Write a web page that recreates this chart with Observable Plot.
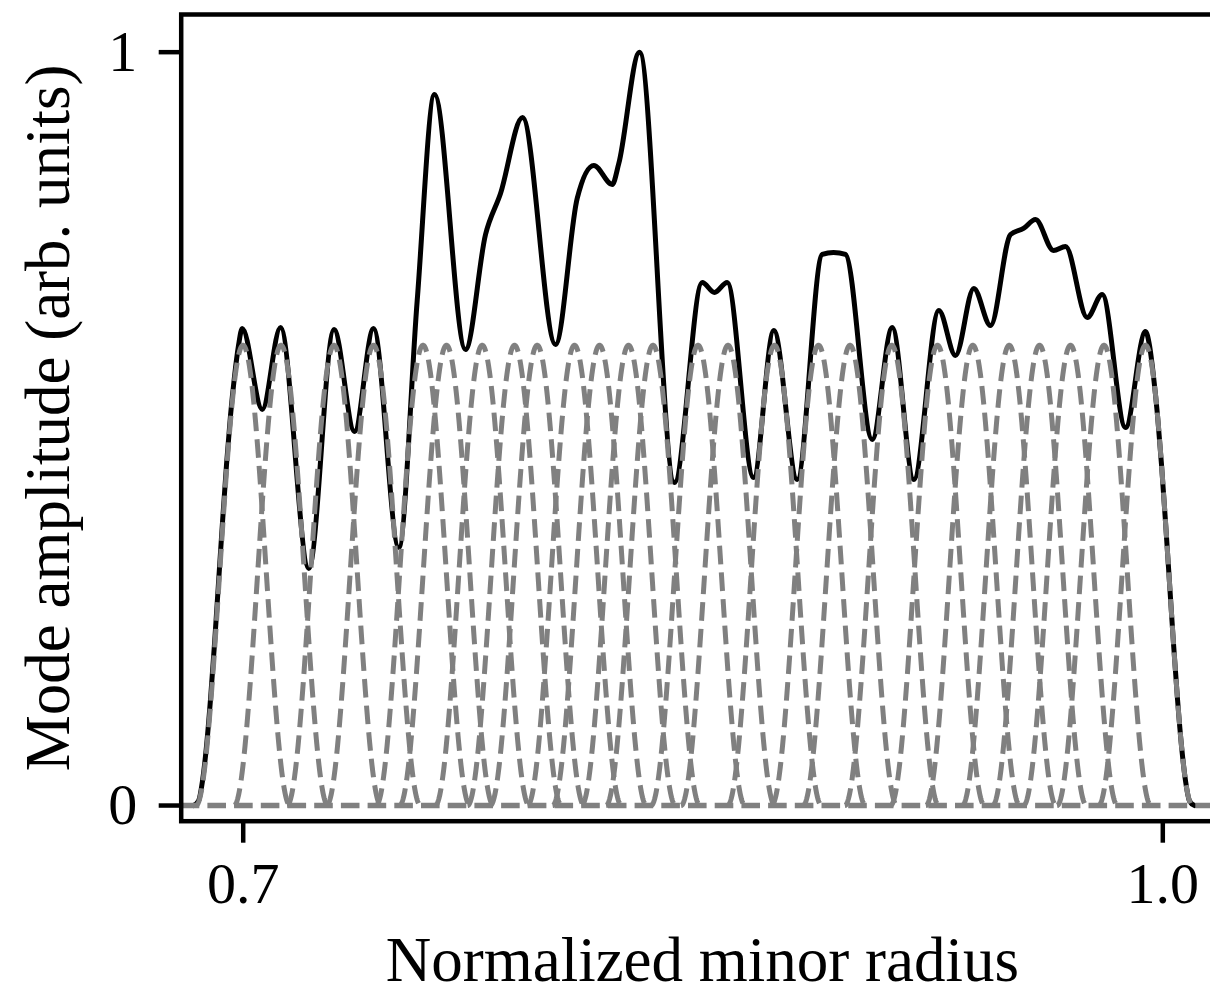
<!DOCTYPE html>
<html><head><meta charset="utf-8">
<script src="https://cdn.jsdelivr.net/npm/d3@7"></script>
<script src="https://cdn.jsdelivr.net/npm/@observablehq/plot@0.6"></script>
<style>
html,body{margin:0;padding:0;background:#fff;overflow:hidden;}
svg{max-width:none !important;}
</style></head><body><div id="chart"></div>
<script>
// Centres of the individual modes (dashed)
const modeCenters = [0.69993, 0.71233, 0.72962, 0.74251, 0.75866, 0.76632, 0.77797, 0.78851, 0.79591,
  0.80808, 0.81624, 0.82570, 0.83369, 0.84837, 0.85816, 0.87333, 0.88768, 0.89796, 0.91159,
  0.92650, 0.93802, 0.94989, 0.95978, 0.96989, 0.98082, 0.99436];
const modePeak = 0.611;        // height of each dashed mode
const modeHalfWidth = 0.01533; // half support of each (cos^2-shaped) mode
const zeroLevel = [0];         // common zero line of the modes

// Total mode amplitude (solid black)
const totalRadius = [0.68379, 0.68542, 0.68672, 0.68803, 0.68933, 0.69064, 0.69194, 0.69325, 0.69455, 0.69586,
  0.69716, 0.69847, 0.69967, 0.70620, 0.71217, 0.72140, 0.72962, 0.73631, 0.74251, 0.75076,
  0.75676, 0.76241, 0.77252, 0.77905, 0.78394, 0.79112, 0.80188, 0.80896, 0.81438, 0.82038,
  0.82253, 0.82929, 0.84070, 0.84974, 0.85375, 0.85790, 0.86648, 0.87310, 0.88073, 0.88889,
  0.89257, 0.89649, 0.90520, 0.91172, 0.91877, 0.92693, 0.93237, 0.93834, 0.94379, 0.95032,
  0.95456, 0.95847, 0.96435, 0.96826, 0.97534, 0.98023, 0.98784, 0.99436, 0.99566, 0.99697,
  0.99827, 0.99958, 1.00088, 1.00219, 1.00349, 1.00480, 1.00610, 1.00741, 1.00871, 1.01034];
const totalAmplitude = [0, 0.0061, 0.0328, 0.0790, 0.1410, 0.2148, 0.2954, 0.3765, 0.4523, 0.5180,
  0.5695, 0.6106, 0.6332, 0.5257, 0.6345, 0.3146, 0.6319, 0.4965, 0.6332, 0.3425,
  0.6704, 0.9439, 0.6053, 0.7580, 0.8124, 0.9133, 0.6120, 0.8058, 0.8496, 0.8244,
  0.8523, 1.0, 0.4288, 0.6943, 0.6810, 0.6943, 0.4354, 0.6306, 0.4328, 0.7315,
  0.7341, 0.7315, 0.4859, 0.6345, 0.4328, 0.6571, 0.5974, 0.6863, 0.6372, 0.7580,
  0.7660, 0.7779, 0.7368, 0.7421, 0.6478, 0.6783, 0.5018, 0.6292, 0.6106, 0.5695,
  0.5180, 0.4523, 0.3765, 0.2954, 0.2148, 0.1410, 0.0790, 0.0328, 0.0061, 0];

const radiusRange = [0.67977, 1.0198];
const xTicks = [0.7, 1.0];
const xTickLabels = ["0.7", "1.0"];
const yTicks = [0, 1];
const yTickLabels = ["0", "1"];
const xLabel = "Normalized minor radius";
const yLabel = "Mode amplitude (arb. units)";

const step = 0.00012;
const modeData = modeCenters.flatMap((c, m) => {
  const rs = d3.range(c - modeHalfWidth, c + modeHalfWidth, step).concat([c + modeHalfWidth]);
  return rs.map(r => ({mode: m, r,
    a: modePeak * Math.cos(Math.PI * (r - c) / (2 * modeHalfWidth)) ** 2}));
});
const totalData = totalRadius.map((r, i) => ({r, a: totalAmplitude[i]}));

const gray = "#808080";
const dash = "18.6,8.1";
const font = "'Liberation Serif', 'Times New Roman', Times, serif";
const chart = Plot.plot({
  width: 1240, height: 994,
  marginLeft: 180.7, marginRight: 17, marginTop: 14, marginBottom: 173.3,
  style: {fontFamily: font, background: "#fff", color: "#000", overflow: "visible"},
  x: {domain: radiusRange, axis: null},
  y: {domain: [-0.0208, 1.05], axis: null},
  marks: [
    Plot.line(totalData, {x: "r", y: "a", stroke: "#000", strokeWidth: 5, curve: "monotone-x"}),
    Plot.ruleY(zeroLevel, {stroke: gray, strokeWidth: 5.5, strokeDasharray: dash, strokeLinecap: "butt"}),
    Plot.line(modeData, {x: "r", y: "a", z: "mode", stroke: gray, strokeWidth: 5,
      strokeDasharray: dash, strokeLinecap: "butt"}),
    Plot.frame({stroke: "#000", strokeWidth: 4.5}),
    Plot.axisX({ticks: xTicks, tickFormat: d => xTickLabels[xTicks.indexOf(d)], tickSize: 22, tickPadding: 19,
      fontSize: 58, label: null, strokeWidth: 4.5}),
    Plot.axisY({ticks: yTicks, tickFormat: d => yTickLabels[yTicks.indexOf(d)], tickSize: 22, tickPadding: 22,
      fontSize: 58, label: null, strokeWidth: 4.5}),
    Plot.text([xLabel], {text: d => d, frameAnchor: "bottom", textAnchor: "middle", lineAnchor: "bottom",
      dy: 160, fontSize: 63, fill: "#000"}),
    Plot.text([yLabel], {text: d => d, frameAnchor: "left", textAnchor: "middle", lineAnchor: "bottom",
      rotate: -90, dx: -112.7, fontSize: 63, fill: "#000"})
  ]
});
chart.style.maxWidth = "none";
document.getElementById("chart").appendChild(chart);
</script></body></html>
